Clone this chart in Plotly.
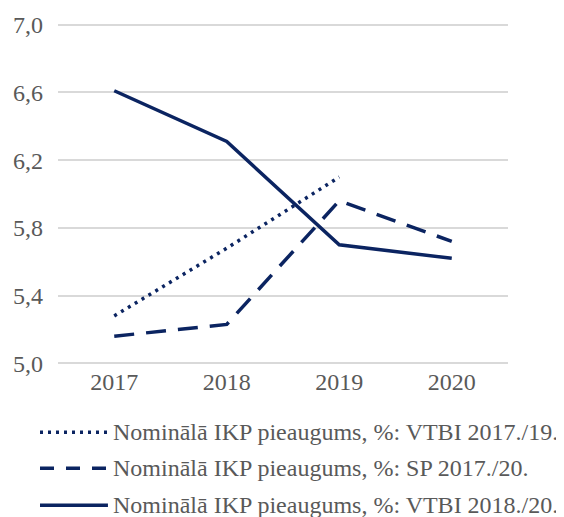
import plotly.graph_objects as go

years = ["2017", "2018", "2019", "2020"]
vtbi_2017_19 = [5.28, 5.68, 6.10, None]
sp_2017_20 = [5.16, 5.23, 5.96, 5.72]
vtbi_2018_20 = [6.61, 6.31, 5.70, 5.62]
names = [
    "Nominālā IKP pieaugums, %: VTBI 2017./19.",
    "Nominālā IKP pieaugums, %: SP 2017./20.",
    "Nominālā IKP pieaugums, %: VTBI 2018./20.",
]
y_ticks = [5.0, 5.4, 5.8, 6.2, 6.6, 7.0]
y_tick_text = ["5,0", "5,4", "5,8", "6,2", "6,6", "7,0"]

color = "#0b2461"
gray = "#595959"
font = "Liberation Serif"
dashes = ["3px,5px", "20px,12px", "solid"]
legend_dashes = ["3px,5px", "14px,12px", "solid"]

fig = go.Figure()
for vals, nm, d in zip([vtbi_2017_19, sp_2017_20, vtbi_2018_20], names, dashes):
    fig.add_trace(go.Scatter(x=years, y=vals, name=nm, mode="lines",
                             line=dict(color=color, width=3.5, dash=d),
                             connectgaps=False, showlegend=False))

# custom legend
rows_y = [-0.197, -0.302, -0.41]
for nm, d, ry in zip(names, legend_dashes, rows_y):
    fig.add_shape(type="line", xref="paper", yref="paper",
                  x0=-0.04, x1=0.111, y0=ry, y1=ry,
                  line=dict(color=color, width=3.5, dash=d))
    fig.add_annotation(xref="paper", yref="paper", x=0.118, y=ry,
                       xanchor="left", yanchor="middle", showarrow=False,
                       text=nm, font=dict(family=font, size=24, color=gray))

fig.update_layout(
    width=556, height=509,
    margin=dict(l=50, r=56, t=15, b=152),
    plot_bgcolor="white", paper_bgcolor="white",
    font=dict(family=font, size=24, color=gray),
    xaxis=dict(type="category", range=[-0.5, 3.5], showgrid=False,
               showline=False, ticks="", zeroline=False, automargin=False,
               tickfont=dict(family=font, size=24, color=gray)),
    yaxis=dict(range=[4.99, 7.01], tickvals=y_ticks, ticktext=y_tick_text,
               showgrid=True, gridcolor="#d9d9d9", gridwidth=1.5,
               zeroline=False, showline=False, ticks="", automargin=False,
               ticklabelstandoff=14,
               tickfont=dict(family=font, size=24, color=gray)),
)
fig.write_html("out.html")
